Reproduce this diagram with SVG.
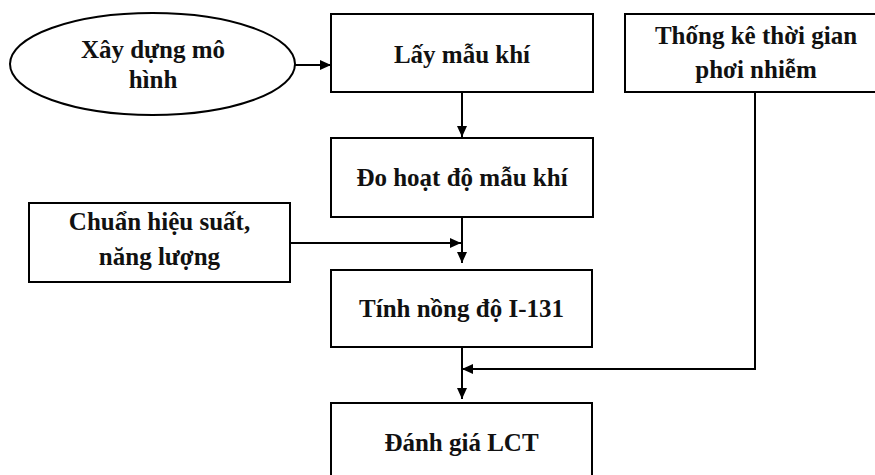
<svg xmlns="http://www.w3.org/2000/svg" width="875" height="475" viewBox="0 0 875 475">
  <style>
    .box { fill: #ffffff; stroke: #000000; stroke-width: 2; }
    .lbl { font-family: "Liberation Serif", "Times New Roman", serif; font-weight: bold; font-size: 25px; fill: #111111; text-anchor: middle; }
    .conn { fill: none; stroke: #000000; stroke-width: 2; }
  </style>
  <defs>
    <marker id="arrow" markerUnits="userSpaceOnUse" markerWidth="11" markerHeight="10" refX="11" refY="5" orient="auto">
      <path d="M0,0 L11,5 L0,10 z" fill="#000000"/>
    </marker>
  </defs>
  <rect width="875" height="475" fill="#ffffff"/>

  <g id="node-xay-dung">
    <ellipse class="box" cx="152.5" cy="64" rx="142.5" ry="51"/>
    <text class="lbl" x="153" y="58">Xây dựng mô</text>
    <text class="lbl" x="153" y="88">hình</text>
  </g>

  <g id="node-lay-mau">
    <rect class="box" x="331" y="14" width="262" height="78"/>
    <text class="lbl" x="462" y="63">Lấy mẫu khí</text>
  </g>

  <g id="node-thong-ke">
    <rect class="box" x="625" y="14" width="262" height="78"/>
    <text class="lbl" x="756" y="44">Thống kê thời gian</text>
    <text class="lbl" x="756" y="78">phơi nhiễm</text>
  </g>

  <g id="node-do-hoat-do">
    <rect class="box" x="331" y="138" width="262" height="79"/>
    <text class="lbl" x="462" y="186">Đo hoạt độ mẫu khí</text>
  </g>

  <g id="node-chuan">
    <rect class="box" x="29" y="203" width="261" height="79"/>
    <text class="lbl" x="159.5" y="230">Chuẩn hiệu suất,</text>
    <text class="lbl" x="159.5" y="265">năng lượng</text>
  </g>

  <g id="node-tinh">
    <rect class="box" x="331" y="270" width="261" height="77"/>
    <text class="lbl" x="461.5" y="317">Tính nồng độ I-131</text>
  </g>

  <g id="node-danh-gia">
    <rect class="box" x="331" y="403" width="261" height="80"/>
    <text class="lbl" x="461.5" y="451">Đánh giá LCT</text>
  </g>

  <g id="connectors">
    <line class="conn" x1="295" y1="65" x2="331" y2="65" marker-end="url(#arrow)"/>
    <line class="conn" x1="462" y1="92" x2="462" y2="137" marker-end="url(#arrow)"/>
    <line class="conn" x1="462" y1="217" x2="462" y2="263" marker-end="url(#arrow)"/>
    <line class="conn" x1="290" y1="243" x2="461" y2="243" marker-end="url(#arrow)"/>
    <line class="conn" x1="462" y1="347" x2="462" y2="399" marker-end="url(#arrow)"/>
    <polyline class="conn" points="755,92 755,369 462,369" marker-end="url(#arrow)"/>
  </g>
</svg>
